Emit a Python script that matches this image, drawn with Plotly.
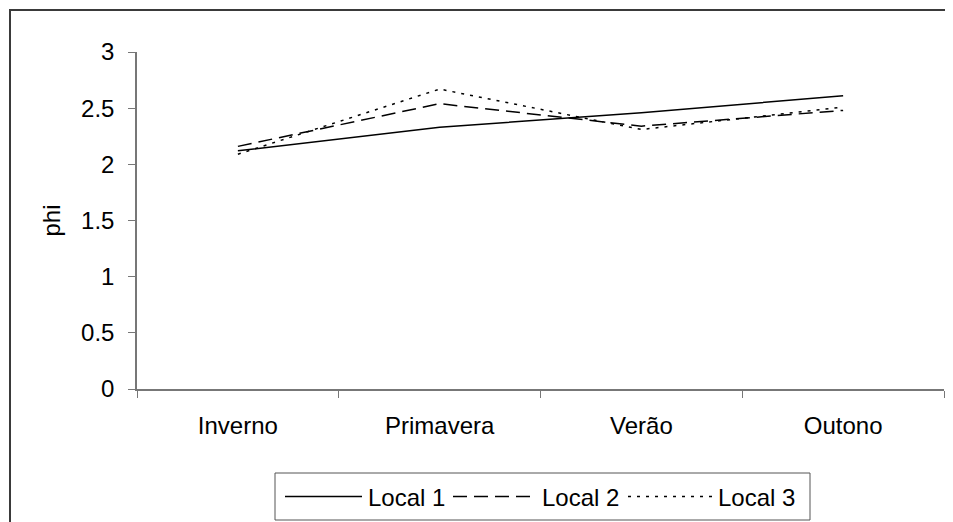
import plotly.graph_objects as go

categories = ["Inverno", "Primavera", "Verão", "Outono"]
local1 = [2.12, 2.33, 2.46, 2.61]
local2 = [2.16, 2.54, 2.34, 2.48]
local3 = [2.09, 2.67, 2.31, 2.51]
series_names = ["Local 1", "Local 2", "Local 3"]
y_ticks = [0, 0.5, 1, 1.5, 2, 2.5, 3]
y_ticktext = ["0", "0.5", "1", "1.5", "2", "2.5", "3"]

FONT = "Liberation Sans, Arial, sans-serif"
FS = 24
dashes = ["solid", "14px,7px", "3px,6px"]

# page body has an 8px margin; work in screen pixels and convert
OFF = 8
W, H = 937, 514
ml, mr, mt, mb = 129, 1, 44, 133
pw, ph = W - ml - mr, H - mt - mb


def sx(px):
    return (px - OFF - ml) / pw


def sy(py):
    return (H - mb - (py - OFF)) / ph


fig = go.Figure()
for name, vals, dash in zip(series_names, [local1, local2, local3], dashes):
    fig.add_trace(go.Scatter(
        x=categories, y=vals, name=name, mode="lines",
        line=dict(color="black", width=1.5, dash=dash),
        showlegend=False,
    ))

shapes = []
annotations = []
# outer chart border (top and left edges; right/bottom are cut off)
border = dict(color="#3a3a3a", width=2)
shapes.append(dict(type="line", xref="paper", yref="paper",
                   x0=sx(9), x1=sx(960), y0=sy(10), y1=sy(10), line=border))
shapes.append(dict(type="line", xref="paper", yref="paper",
                   x0=sx(10), x1=sx(10), y0=sy(9), y1=sy(540), line=border))
# legend box
shapes.append(dict(type="rect", xref="paper", yref="paper",
                   x0=sx(275), x1=sx(810), y0=sy(520), y1=sy(473),
                   line=dict(color="#555", width=1),
                   fillcolor="white", layer="above"))
leg_line_x = [(285, 362), (453, 535), (628, 713)]
leg_text_x = [366, 540, 716]
for (a, b), tx, name, dash in zip(leg_line_x, leg_text_x, series_names, dashes):
    shapes.append(dict(type="line", xref="paper", yref="paper",
                       x0=sx(a), x1=sx(b), y0=sy(496.5), y1=sy(496.5),
                       line=dict(color="black", width=1.5, dash=dash),
                       layer="above"))
    annotations.append(dict(xref="paper", yref="paper", x=sx(tx), y=sy(497),
                            text=name, showarrow=False, xanchor="left",
                            yanchor="middle",
                            font=dict(family=FONT, size=FS, color="black")))

fig.update_layout(
    width=W, height=H,
    margin=dict(l=ml, r=mr, t=mt, b=mb, autoexpand=False),
    paper_bgcolor="white", plot_bgcolor="white",
    font=dict(family=FONT, size=FS, color="black"),
    showlegend=False,
    shapes=shapes,
    annotations=annotations,
    xaxis=dict(
        type="category", range=[-0.5, 3.5],
        showline=True, linecolor="#777", linewidth=1.5,
        ticks="outside", tickson="boundaries", ticklen=7, tickcolor="#777",
        showgrid=False, zeroline=False, ticklabelstandoff=14,
        tickfont=dict(family=FONT, size=FS, color="black"),
    ),
    yaxis=dict(
        range=[0, 3], tickvals=y_ticks, ticktext=y_ticktext,
        showline=True, linecolor="#777", linewidth=1.5,
        ticks="outside", ticklen=7, tickcolor="#777",
        showgrid=False, zeroline=False, ticklabelstandoff=9,
        tickfont=dict(family=FONT, size=FS, color="black"),
        title=dict(text="phi", standoff=14,
                   font=dict(family=FONT, size=FS, color="black")),
    ),
)

fig.write_html("out.html")
